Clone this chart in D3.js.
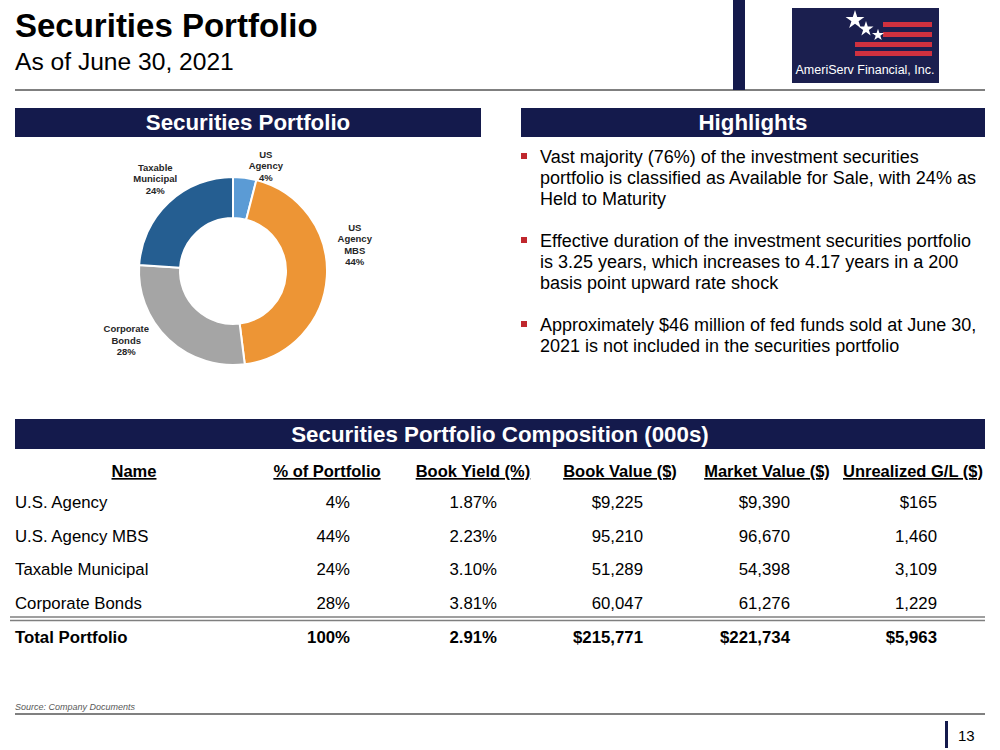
<!DOCTYPE html>
<html><head><meta charset="utf-8">
<script src="https://cdn.jsdelivr.net/npm/d3@7"></script>
<style>
html,body{margin:0;padding:0;background:#fff;}
svg{display:block;font-family:"Liberation Sans",Arial,sans-serif;}
</style></head>
<body>
<svg id="c" width="1000" height="750"></svg>
<script>
// ---- data ----
const categories = ["US Agency", "US Agency MBS", "Corporate Bonds", "Taxable Municipal"];
const labelLines = [["US","Agency"],["US","Agency","MBS"],["Corporate","Bonds"],["Taxable","Municipal"]];
const shares = [4, 44, 28, 24];
const sliceColors = ["#5b9bd5", "#ed9535", "#a5a5a5", "#255e91"];

const highlights = [
  ["Vast majority (76%) of the investment securities", "portfolio is classified as Available for Sale, with 24% as", "Held to Maturity"],
  ["Effective duration of the investment securities portfolio", "is 3.25 years, which increases to 4.17 years in a 200", "basis point upward rate shock"],
  ["Approximately $46 million of fed funds sold at June 30,", "2021 is not included in the securities portfolio"]
];

const columns = ["Name", "% of Portfolio", "Book Yield (%)", "Book Value ($)", "Market Value ($)", "Unrealized G/L ($)"];
const rowNames = ["U.S. Agency", "U.S. Agency MBS", "Taxable Municipal", "Corporate Bonds"];
const pctPortfolio = ["4%", "44%", "24%", "28%"];
const bookYield = ["1.87%", "2.23%", "3.10%", "3.81%"];
const bookValue = ["$9,225", "95,210", "51,289", "60,047"];
const marketValue = ["$9,390", "96,670", "54,398", "61,276"];
const unrealized = ["$165", "1,460", "3,109", "1,229"];
const totalRow = ["Total Portfolio", "100%", "2.91%", "$215,771", "$221,734", "$5,963"];

const NAVY = "#141a4c";
const svg = d3.select("#c");

// ---- page header ----
svg.append("text").attr("x", 15).attr("y", 37).attr("font-size", 33).attr("font-weight", "bold").attr("fill", "#000").text("Securities Portfolio");
svg.append("text").attr("x", 15).attr("y", 70).attr("font-size", 24.6).attr("fill", "#000").text("As of June 30, 2021");
svg.append("line").attr("x1", 15).attr("x2", 985).attr("y1", 90).attr("y2", 90).attr("stroke", "#000").attr("stroke-width", 1);
svg.append("rect").attr("x", 733).attr("y", 0).attr("width", 12).attr("height", 90).attr("fill", NAVY);

// logo
const logo = svg.append("g");
logo.append("rect").attr("x", 792).attr("y", 8).attr("width", 147).attr("height", 75).attr("fill", "#1b1f4f");
[[883,22],[883,32],[855,42],[855,51]].forEach(([x,y]) => {
  logo.append("rect").attr("x", x).attr("y", y).attr("width", 932 - x).attr("height", 5).attr("fill", "#d0313f");
});
[[855,20,110],[866,29,70],[878,35,45]].forEach(([x,y,s]) => {
  logo.append("path").attr("d", d3.symbol(d3.symbolStar, s)()).attr("transform", `translate(${x},${y})`).attr("fill", "#fff");
});
logo.append("text").attr("x", 865).attr("y", 74).attr("text-anchor", "middle").attr("font-size", 12.5).attr("fill", "#fff").text("AmeriServ Financial, Inc.");

// ---- section headers ----
function header(x, w, y, h, label) {
  svg.append("rect").attr("x", x).attr("y", y).attr("width", w).attr("height", h).attr("fill", NAVY);
  svg.append("text").attr("x", x + w / 2).attr("y", y + h / 2 + 7.8).attr("text-anchor", "middle")
    .attr("font-size", 22.3).attr("font-weight", "bold").attr("fill", "#fff").text(label);
}
header(15, 466, 108, 29, "Securities Portfolio");
header(521, 464, 108, 29, "Highlights");
header(15, 970, 419, 30, "Securities Portfolio Composition (000s)");

// ---- donut ----
const cx = 233, cy = 271, rOuter = 94, rInner = 53;
const pie = d3.pie().sort(null).value(d => d)(shares);
const arc = d3.arc().innerRadius(rInner).outerRadius(rOuter);
const g = svg.append("g").attr("transform", `translate(${cx},${cy})`);
g.selectAll("path").data(pie).join("path")
  .attr("d", arc).attr("fill", (d, i) => sliceColors[i]).attr("stroke", "#fff").attr("stroke-width", 2);

const labelArc = d3.arc().innerRadius(118).outerRadius(118);
const labelNudge = [[18, 12], [4, -34], [-26, -17], [3, -6]];
pie.forEach((d, i) => {
  const [lx, ly] = labelArc.centroid(d);
  const lines = labelLines[i].concat([shares[i] + "%"]);
  const x = lx + labelNudge[i][0], y = ly + labelNudge[i][1];
  const t = g.append("text").attr("text-anchor", "middle").attr("font-size", 9.5).attr("font-weight", "bold").attr("fill", "#262626");
  const lh = 11.5;
  lines.forEach((s, k) => {
    t.append("tspan").attr("x", x).attr("y", y + (k - (lines.length - 1) / 2) * lh + 3.5).text(s);
  });
});

// ---- highlights ----
const hg = svg.append("g");
const paraStart = [157, 241, 325];
const lineH = 21;
highlights.forEach((para, p) => {
  hg.append("rect").attr("x", 521).attr("y", paraStart[p] - 4).attr("width", 6).attr("height", 6).attr("fill", "#c0272d");
  para.forEach((s, k) => {
    hg.append("text").attr("x", 540).attr("y", paraStart[p] + k * lineH + 6).attr("font-size", 18).attr("fill", "#000").text(s);
  });
});

// ---- table ----
const colRight = [null, 350, 497, 643, 790, 937];
const colCenter = [134, 327, 473, 620, 767, 913];
const rowY = d3.scaleLinear().domain([0, 1]).range([502, 535.7]);
const tg = svg.append("g").attr("font-size", 16.8).attr("fill", "#000");

columns.forEach((c, i) => {
  tg.append("text").attr("x", colCenter[i]).attr("y", 477).attr("text-anchor", "middle").attr("font-size", 16.5)
    .attr("font-weight", "bold").attr("text-decoration", "underline").text(c);
});

const bodyCols = [rowNames, pctPortfolio, bookYield, bookValue, marketValue, unrealized];
rowNames.forEach((n, r) => {
  bodyCols.forEach((col, i) => {
    const t = tg.append("text").attr("y", rowY(r) + 6).text(col[r]);
    if (i === 0) t.attr("x", 15); else t.attr("x", colRight[i]).attr("text-anchor", "end");
  });
});
svg.append("line").attr("x1", 10).attr("x2", 985).attr("y1", 617).attr("y2", 617).attr("stroke", "#7f7f7f").attr("stroke-width", 1.5);
svg.append("line").attr("x1", 10).attr("x2", 985).attr("y1", 620.5).attr("y2", 620.5).attr("stroke", "#7f7f7f").attr("stroke-width", 1.5);

totalRow.forEach((v, i) => {
  const t = tg.append("text").attr("y", rowY(4) + 6).attr("font-weight", "bold").text(v);
  if (i === 0) t.attr("x", 15); else t.attr("x", colRight[i]).attr("text-anchor", "end");
});

// ---- footer ----
svg.append("text").attr("x", 15).attr("y", 710).attr("font-size", 9).attr("font-style", "italic").attr("fill", "#595959").text("Source: Company Documents");
svg.append("line").attr("x1", 15).attr("x2", 985).attr("y1", 714).attr("y2", 714).attr("stroke", "#808080").attr("stroke-width", 2);
svg.append("rect").attr("x", 945).attr("y", 721).attr("width", 3).attr("height", 27).attr("fill", NAVY);
svg.append("text").attr("x", 958).attr("y", 741).attr("font-size", 15).attr("fill", "#000").text("13");
</script>
</body></html>
